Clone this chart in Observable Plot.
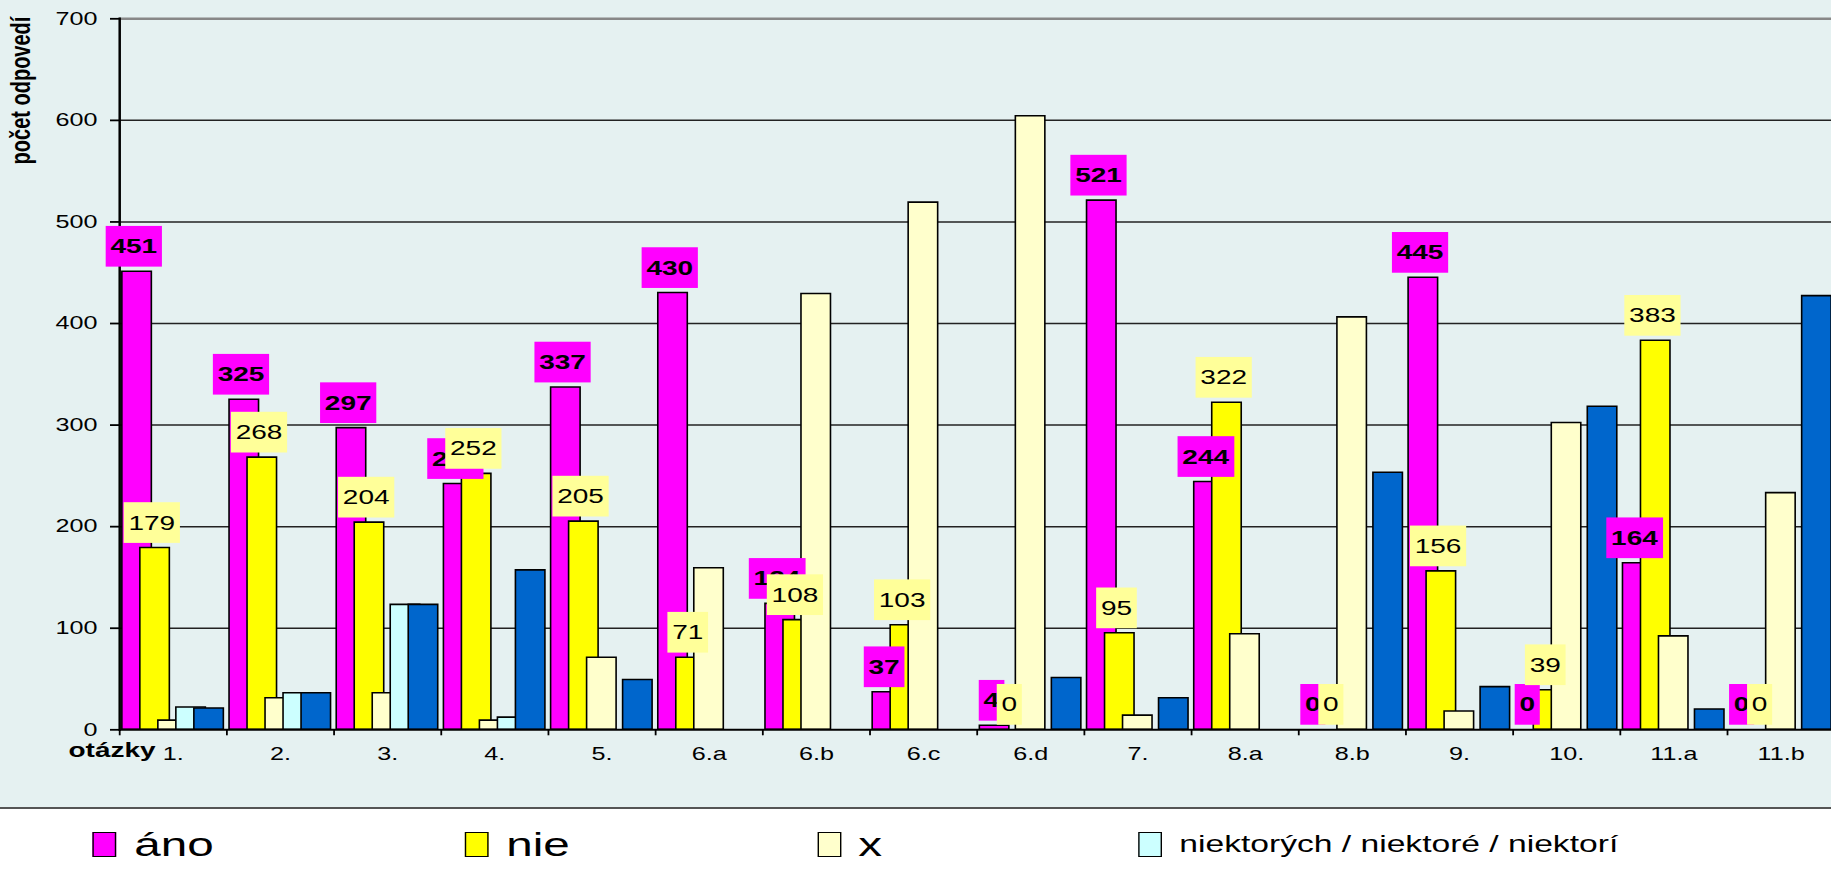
<!DOCTYPE html>
<html><head><meta charset="utf-8">
<script src="https://cdn.jsdelivr.net/npm/d3@7"></script>
<script src="https://cdn.jsdelivr.net/npm/@observablehq/plot@0.6"></script>
<style>
html,body{margin:0;padding:0;background:#fff;overflow:hidden;width:1831px;height:871px;}
#chart svg *{vector-effect:non-scaling-stroke;}
#legend{position:relative;width:1310px;height:62px;transform:scaleX(1.4);transform-origin:0 0;font-family:"Liberation Sans",Arial,sans-serif;color:#000;}
.item{position:absolute;top:4px;height:62px;display:flex;align-items:center;white-space:nowrap;}
.sw{width:17px;height:25px;border:1.5px solid #000;box-sizing:border-box;margin-right:12.5px;flex:none;}
</style></head><body>
<div id="chart"></div><div id="legend"></div>
<script>
// ---- data ----
const cats = ["1.","2.","3.","4.","5.","6.a","6.b","6.c","6.d","7.","8.a","8.b","9.","10.","11.a","11.b"];
const ano   = [451,325,297,242,337,430,124,37,4,521,244,0,445,0,164,0];
const nie   = [179,268,204,252,205,71,108,103,0,95,322,0,156,39,383,0];
const xval  = [9,31,36,9,71,159,429,519,604,14,94,406,18,302,92,233];
const niekt = [22,36,123,12,0,0,0,0,0,0,0,0,0,0,0,0];
const ine   = [21,36,123,157,49,0,0,0,51,31,0,253,42,318,20,427];
const seriesNames  = ["áno","nie","x","niektorých / niektoré / niektorí","iné"];
const seriesColors = ["#FF00FF","#FFFF00","#FFFFCC","#CCFFFF","#0066CC"];
const seriesValues = [ano, nie, xval, niekt, ine];
const yTicks = [0,100,200,300,400,500,600,700];
const yTitle = "počet odpovedí";
const xTitle = "otázky";
const legendSizes = [34,34,34,24];
const legendLeft = [66.4,332.1,583.6,812.9];

// ---- layout ----
const K = 1.4, W = 1310, H = 807, ML = 85, MR = 0, MT = 18.3, MB = 77.7;
const band = (W - ML - MR) / cats.length;
const barW = 29.5 / K, step = 18 / K, off0 = 2.85 / K;

const rowsOf = (vals) => cats.map((c, j) => ({cat: c, value: vals[j]}));

const barMarks = seriesValues.map((vals, i) => {
  const L = off0 + i * step;
  const R = band - L - barW;
  return Plot.barY(rowsOf(vals).filter(d => d.value > 0), {
    x: "cat", y: "value", fill: seriesColors[i], stroke: "#000", strokeWidth: 1.6,
    insetLeft: L, insetRight: R
  });
});
const labelDx = i => off0 + i * step + barW / 2 - band / 2 - 2.5;

const svg = Plot.plot({
  width: W, height: H,
  marginLeft: ML, marginRight: MR, marginTop: MT, marginBottom: MB,
  style: {fontFamily: "'Liberation Sans', Arial, sans-serif", color: "#000", background: "#E5F1F1"},
  x: {domain: cats, padding: 0, round: false, label: null},
  y: {domain: [0, 700], label: null},
  marks: [
    Plot.ruleY(yTicks.filter(t => t > 0 && t < 700), {stroke: "#222", strokeWidth: 1.5}),
    Plot.ruleY([700], {stroke: "#888", strokeWidth: 2.5}),
    ...barMarks,
    Plot.ruleY([0], {stroke: "#000", strokeWidth: 2}),
    Plot.frame({anchor: "left", stroke: "#000", strokeWidth: 2.5}),
    Plot.axisY({ticks: yTicks, tickSize: 9 / K, tickPadding: 9.5, fontSize: 18, tickFormat: d => String(d), label: null, strokeWidth: 1.8}),
    Plot.axisX({tickSize: 6, dx: -band / 2, tickFormat: () => "", label: null, strokeWidth: 1.8}),
    Plot.text(cats, {x: d => d, text: d => d, frameAnchor: "bottom", dy: 29.7, fontSize: 18}),
    Plot.text([xTitle], {x: () => cats[0], text: d => d, frameAnchor: "bottom", dy: 27.2, dx: -12.6, textAnchor: "end", fontWeight: "bold", fontSize: 20}),
    Plot.text([yTitle], {text: d => d, frameAnchor: "top-left", textAnchor: "middle", lineAnchor: "middle", rotate: -90, dx: -70.7, dy: 71.7, fontWeight: "bold", fontSize: 20}),
    Plot.text(rowsOf(ano), {x: "cat", y: "value", text: d => String(d.value), dx: labelDx(0), dy: -24.85, fontWeight: "bold", fontSize: 20, ariaDescription: "ano-lab"}),
    Plot.text(rowsOf(nie), {x: "cat", y: "value", text: d => String(d.value), dx: labelDx(1), dy: -24.85, fontSize: 20, ariaDescription: "nie-lab"})
  ]
});

svg.setAttribute("width", 1834);
svg.setAttribute("height", H);
svg.setAttribute("preserveAspectRatio", "none");
Object.assign(svg.style, {width: "1834px", height: H + "px", maxWidth: "none", display: "block", background: "#E5F1F1", borderBottom: "2px solid #555"});
document.getElementById("chart").appendChild(svg);

function boxes(label, fill) {
  svg.querySelectorAll(`g[aria-description="${label}"] text`).forEach(t => {
    const b = t.getBBox();
    const r = document.createElementNS("http://www.w3.org/2000/svg", "rect");
    const pad = 3.4, h = 40.7, cy = b.y + b.height / 2;
    r.setAttribute("x", b.x - pad);
    r.setAttribute("y", cy - h / 2);
    r.setAttribute("width", b.width + 2 * pad);
    r.setAttribute("height", h);
    r.setAttribute("fill", fill);
    r.setAttribute("stroke", "none");
    const tr = t.getAttribute("transform");
    if (tr) r.setAttribute("transform", tr);
    t.parentNode.insertBefore(r, t);
  });
}
boxes("ano-lab", "#FF00FF");
boxes("nie-lab", "#FFFF99");

// ---- legend ----
const legend = document.getElementById("legend");
for (let i = 0; i < 4; i++) {
  const it = document.createElement("div");
  it.className = "item";
  it.style.left = legendLeft[i] + "px";
  const sw = document.createElement("div");
  sw.className = "sw";
  sw.style.background = seriesColors[i];
  const tx = document.createElement("span");
  tx.textContent = seriesNames[i];
  tx.style.fontSize = legendSizes[i] + "px";
  it.appendChild(sw); it.appendChild(tx);
  legend.appendChild(it);
}
</script>
</body></html>
